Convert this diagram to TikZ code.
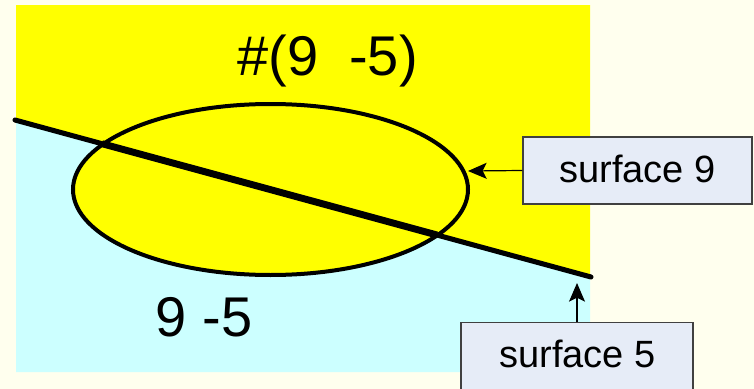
\documentclass[tikz,border=0pt]{standalone}
\usepackage{fontspec}
\setmainfont{Liberation Sans}
\usetikzlibrary{arrows.meta}
\definecolor{bgcream}{HTML}{FFFFEE}
\definecolor{ylw}{HTML}{FFFF00}
\definecolor{cyn}{HTML}{CCFFFF}
\definecolor{boxfill}{HTML}{E6ECF7}
\definecolor{boxline}{HTML}{404040}
\tikzset{
  bigtext/.style={font=\fontsize{42}{50}\selectfont, inner sep=0pt, anchor=base},
  labelbox/.style={draw=boxline, line width=1pt, fill=boxfill, inner sep=0pt},
  labeltext/.style={font=\fontsize{28.5}{34}\selectfont, inner sep=0pt, anchor=base},
  pointer/.style={line width=0.9pt, -{Stealth[length=14pt, width=12pt, inset=3pt]}},
  surfline/.style={line width=3.8pt, line cap=round},
}
\begin{document}
\begin{tikzpicture}[x=0.75pt, y=-0.75pt]
\useasboundingbox (0,0) rectangle (754,389);
\fill[bgcream] (0,0) rectangle (754,389);
% regions
\fill[ylw] (16,5) -- (590,5) -- (590,277) -- (16,120) -- cycle;
\fill[cyn] (16,120) -- (590,277) -- (590,372) -- (16,372) -- cycle;
% ellipse
\draw[ylw, fill=ylw] (270.5,189.5) ellipse [x radius=197.5, y radius=85.5];
\draw[line width=3pt] (270.5,189.5) ellipse [x radius=197.5, y radius=85.5];
\coordinate (ellE) at (468,171);
% line (surface 5)
\coordinate (lA) at (15,120);
\coordinate (lB) at (591,277);
\draw[surfline] (lA) -- (lB);
\draw[line width=5.2pt] (102,143.7) -- (437,235);
% texts
\node[bigtext] (t1) at (327.5,75) {\#(9\ \ -5)};
\node[bigtext] (t2) at (204,336) {9 -5};
% label boxes
\node[labelbox, minimum width=171.75pt, minimum height=50.25pt] (b9) at (637.5,170.5) {};
\node[labeltext] (s9) at (637.5,182) {surface 9};
\node[labelbox, minimum width=174pt, minimum height=52.5pt, anchor=north] (b5) at (577,322) {};
\node[labeltext] (s5) at (577.5,367) {surface 5};
\coordinate (lB5) at (577,283);
\draw[pointer] (b9.west) -- (ellE);
\draw[pointer] (b5.north) -- (lB5);
\end{tikzpicture}
\end{document}
